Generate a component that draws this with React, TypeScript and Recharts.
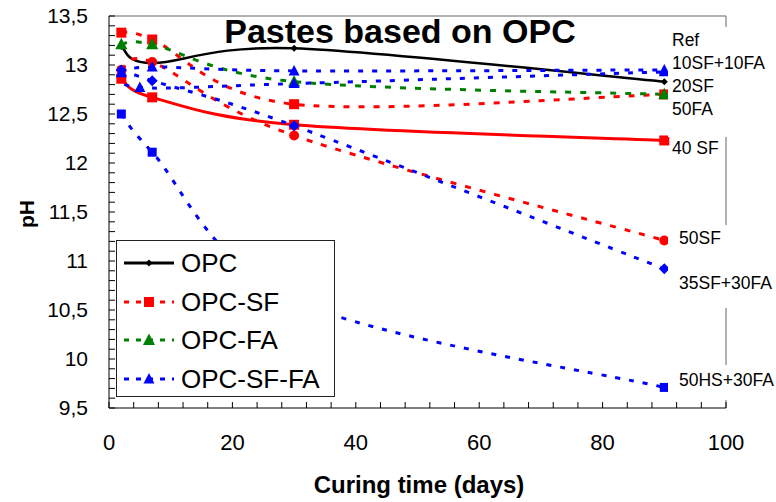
import { LineChart, Line, XAxis, YAxis, ReferenceLine } from 'recharts';

// curing days for each measurement
const days = [2, 7, 30, 90];
const daysAlt = [2, 5, 30, 90];

// pH values
const opcRef = [13.19, 13.02, 13.17, 12.83];
const sf20 = [13.33, 13.26, 12.6, 12.7];
const sf40 = [12.86, 12.67, 12.39, 12.23];
const sf50 = [12.95, 13.03, 12.28, 11.21];
const fa50 = [13.21, 13.21, 12.83, 12.7];
const sf10fa10 = [12.92, 12.98, 12.94, 12.95];
const sf10fa10b = [12.93, 12.77, 12.81, 12.93];
const sf35fa30 = [12.95, 12.84, 12.38, 10.92];
const hs50fa30 = [12.5, 12.11, 10.6, 9.71];

const xTicks = [0, 4, 8, 12, 16, 20, 24, 28, 32, 36, 40, 44, 48, 52, 56, 60, 64, 68, 72, 76, 80, 84, 88, 92, 96, 100];
const xLabels = [0, 20, 40, 60, 80, 100];
const yTicks = [
  9.5, 9.6, 9.7, 9.8, 9.9, 10, 10.1, 10.2, 10.3, 10.4, 10.5, 10.6, 10.7, 10.8, 10.9, 11, 11.1, 11.2, 11.3, 11.4,
  11.5, 11.6, 11.7, 11.8, 11.9, 12, 12.1, 12.2, 12.3, 12.4, 12.5, 12.6, 12.7, 12.8, 12.9, 13, 13.1, 13.2, 13.3, 13.4, 13.5,
];
const yLabels = [9.5, 10, 10.5, 11, 11.5, 12, 12.5, 13, 13.5];

const RED = '#FF0000';
const GREEN = '#008000';
const BLUE = '#0000FF';
const FONT = '"Liberation Sans", Arial, sans-serif';

type Shape = 'square' | 'circle' | 'triangle' | 'diamond';

const series = [
  { id: 'ref', x: days, y: opcRef, color: '#000', dash: undefined, width: 2.5, shape: 'diamond' as Shape, size: 7 },
  { id: '40sf', x: days, y: sf40, color: RED, dash: undefined, width: 3, shape: 'square' as Shape, size: 10 },
  { id: '50sf', x: days, y: sf50, color: RED, dash: '6 9', width: 3, shape: 'circle' as Shape, size: 10 },
  { id: '20sf', x: days, y: sf20, color: RED, dash: '6 9', width: 3, shape: 'square' as Shape, size: 10 },
  { id: '50fa', x: days, y: fa50, color: GREEN, dash: '6 9', width: 3, shape: 'triangle' as Shape, size: 11 },
  { id: '10sf10fa-b', x: daysAlt, y: sf10fa10b, color: BLUE, dash: '5 9', width: 3, shape: 'triangle' as Shape, size: 10 },
  { id: '10sf10fa', x: days, y: sf10fa10, color: BLUE, dash: '5 9', width: 3, shape: 'triangle' as Shape, size: 10 },
  { id: '35sf30fa', x: days, y: sf35fa30, color: BLUE, dash: '5 9', width: 3, shape: 'diamond' as Shape, size: 11 },
  { id: '50hs30fa', x: days, y: hs50fa30, color: BLUE, dash: '5 9', width: 3, shape: 'square' as Shape, size: 9 },
];

const legendItems = [
  { name: 'OPC', color: '#000', dash: undefined, shape: 'diamond' as Shape, size: 7 },
  { name: 'OPC-SF', color: RED, dash: '5 7', shape: 'square' as Shape, size: 10 },
  { name: 'OPC-FA', color: GREEN, dash: '5 7', shape: 'triangle' as Shape, size: 11 },
  { name: 'OPC-SF-FA', color: BLUE, dash: '5 7', shape: 'triangle' as Shape, size: 10 },
];

const rightLabels = [
  { text: 'Ref', cy: 40, left: 672 },
  { text: '10SF+10FA', cy: 63, left: 672 },
  { text: '20SF', cy: 86, left: 672 },
  { text: '50FA', cy: 109, left: 672 },
  { text: '40 SF', cy: 148, left: 672 },
  { text: '50SF', cy: 238, left: 679 },
  { text: '35SF+30FA', cy: 283, left: 679 },
  { text: '50HS+30FA', cy: 380, left: 679 },
];

// white boxes behind label groups (they hide the plot border there)
const coverBoxes = [
  { top: 27, height: 110 },
  { top: 225, height: 83 },
  { top: 365, height: 35 },
];

// Excel-style smoothed line: bezier through the points, tangents from neighbours / 6
function smoothCurve(context: any) {
  let pts: number[][] = [];
  return {
    areaStart() {},
    areaEnd() {},
    lineStart() {
      pts = [];
    },
    point(x: number, y: number) {
      pts.push([+x, +y]);
    },
    lineEnd() {
      if (!pts.length) return;
      context.moveTo(pts[0][0], pts[0][1]);
      for (let i = 0; i < pts.length - 1; i++) {
        const p0 = pts[i - 1] || pts[i];
        const p1 = pts[i];
        const p2 = pts[i + 1];
        const p3 = pts[i + 2] || p2;
        context.bezierCurveTo(
          p1[0] + (p2[0] - p0[0]) / 6,
          p1[1] + (p2[1] - p0[1]) / 6,
          p2[0] - (p3[0] - p1[0]) / 6,
          p2[1] - (p3[1] - p1[1]) / 6,
          p2[0],
          p2[1],
        );
      }
    },
  };
}

function Marker({ cx, cy, shape, color, size }: { cx?: number; cy?: number; shape: Shape; color: string; size: number }) {
  if (cx == null || cy == null) return null;
  const s = size;
  if (shape === 'square') return <rect x={cx - s / 2} y={cy - s / 2} width={s} height={s} fill={color} />;
  if (shape === 'circle') return <circle cx={cx} cy={cy} r={s / 2} fill={color} />;
  if (shape === 'triangle')
    return (
      <polygon
        points={`${cx},${cy - s * 0.6} ${cx + s * 0.55},${cy + s * 0.45} ${cx - s * 0.55},${cy + s * 0.45}`}
        fill={color}
      />
    );
  return <polygon points={`${cx},${cy - s / 2} ${cx + s / 2},${cy} ${cx},${cy + s / 2} ${cx - s / 2},${cy}`} fill={color} />;
}

const fmtX = (v: number) => (xLabels.includes(v) ? String(v) : '');
const fmtY = (v: number) => (yLabels.some((l) => Math.abs(l - v) < 1e-6) ? String(v).replace('.', ',') : '');

export default function App() {
  return (
    <div style={{ position: 'absolute', left: 0, top: 0, width: 776, height: 502, background: '#fff', fontFamily: FONT }}>
      <LineChart width={776} height={502} margin={{ top: 16, right: 50, bottom: 0, left: 49 }}>
        <XAxis
          type="number"
          dataKey="day"
          domain={[0, 100]}
          ticks={xTicks}
          interval={0}
          tickFormatter={fmtX}
          height={94}
          tickSize={-6}
          tickMargin={32}
          stroke="#000"
          tick={{ fontSize: 22, fill: '#000', fontFamily: FONT }}
          allowDuplicatedCategory={false}
        />
        <YAxis
          type="number"
          domain={[9.5, 13.5]}
          ticks={yTicks}
          interval={0}
          tickFormatter={fmtY}
          width={60}
          tickSize={-6}
          tickMargin={27}
          stroke="#000"
          tick={{ fontSize: 21, fill: '#000', fontFamily: FONT }}
          allowDataOverflow
        />
        <ReferenceLine y={13.5} stroke="#999" strokeWidth={1.5} />
        <ReferenceLine x={100} stroke="#999" strokeWidth={1.5} />
        {series.map((s) => (
          <Line
            key={s.id}
            data={s.x.map((d, i) => ({ day: d, ph: s.y[i] }))}
            dataKey="ph"
            type={smoothCurve as any}
            stroke={s.color}
            strokeWidth={s.width}
            strokeDasharray={s.dash}
            isAnimationActive={false}
            dot={(p: any) => <Marker key={p.index} cx={p.cx} cy={p.cy} shape={s.shape} color={s.color} size={s.size} />}
            activeDot={false}
          />
        ))}
      </LineChart>

      <svg width={776} height={502} style={{ position: 'absolute', left: 0, top: 0, pointerEvents: 'none' }}>
        <text x={400} y={43} textAnchor="middle" fontSize={34} fontWeight="bold" fontFamily={FONT}>
          Pastes based on OPC
        </text>
        <text x={0} y={0} transform="translate(34,214) rotate(-90)" textAnchor="middle" fontSize={21} fontWeight="bold" fontFamily={FONT}>
          pH
        </text>
        <text x={419} y={493} textAnchor="middle" fontSize={24} fontWeight="bold" fontFamily={FONT}>
          Curing time (days)
        </text>
      </svg>

      {coverBoxes.map((b, i) => (
        <div key={i} style={{ position: 'absolute', left: 668, top: b.top, width: 108, height: b.height, background: '#fff' }} />
      ))}
      {rightLabels.map((l) => (
        <div
          key={l.text}
          style={{ position: 'absolute', left: l.left, top: l.cy - 11, height: 22, lineHeight: '22px', fontSize: 17.5, color: '#000', whiteSpace: 'nowrap' }}
        >
          {l.text}
        </div>
      ))}

      <div
        style={{
          position: 'absolute',
          left: 116,
          top: 240,
          width: 217,
          height: 152,
          border: '1px solid #222',
          background: '#fff',
          paddingTop: 3,
          boxSizing: 'content-box',
        }}
      >
        {legendItems.map((it) => (
          <div key={it.name} style={{ display: 'flex', alignItems: 'center', height: 38.5 }}>
            <svg width={62} height={20} style={{ marginLeft: 5 }}>
              <line x1={2} y1={10} x2={52} y2={10} stroke={it.color} strokeWidth={3} strokeDasharray={it.dash} />
              <Marker cx={27} cy={10} shape={it.shape} color={it.color} size={it.size} />
            </svg>
            <span style={{ fontSize: 26, color: '#000', lineHeight: '30px', marginLeft: -3 }}>{it.name}</span>
          </div>
        ))}
      </div>
    </div>
  );
}
